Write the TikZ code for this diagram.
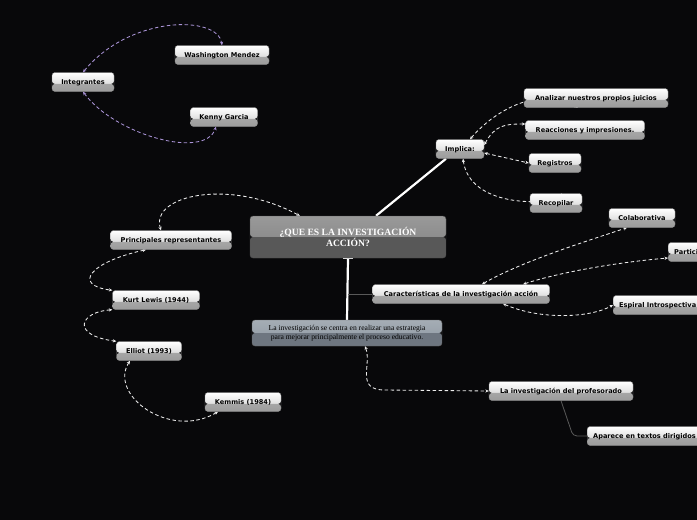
\documentclass[tikz,border=0pt]{standalone}
\usepackage{fontspec}
\setmainfont{Liberation Serif}
\newfontfamily\leaffont{DejaVu Sans}
\usepackage{xcolor}
\usepackage{tikz}
\usetikzlibrary{arrows.meta, backgrounds, calc}

\definecolor{bgdark}{HTML}{08080A}
\definecolor{lilac}{HTML}{A993D6}
\definecolor{dashgray}{HTML}{EDEDED}
\definecolor{maintop}{HTML}{808080}
\definecolor{mainbot}{HTML}{585858}
\definecolor{desctop}{HTML}{8E98A2}
\definecolor{descbot}{HTML}{6E7680}

\begin{document}
\begin{tikzpicture}[x=1pt, y=-1pt,
  leaf/.style={draw=black!45, rounded corners=3pt, minimum height=19pt, inner xsep=6pt,
               text height=5.6pt, text depth=1pt,
               font=\leaffont\bfseries\fontsize{6.6}{8}\selectfont, text=black,
               path picture={
                 \coordinate (splitw) at ($(path picture bounding box.north west)!0.6!(path picture bounding box.south west)$);
                 \coordinate (splite) at ($(path picture bounding box.north east)!0.6!(path picture bounding box.south east)$);
                 \shade[top color=white, bottom color=gray!25]
                   (path picture bounding box.north west) rectangle (splite);
                 \shade[top color=gray!70, bottom color=gray!78]
                   (splitw) rectangle (path picture bounding box.south east);}},
  topic/.style={draw=black!70, rounded corners=3pt, align=center, text=white,
                font=\bfseries\fontsize{9.6}{11.5}\selectfont,
                path picture={
                 \shade[top color=maintop!80!white, bottom color=maintop]
                   (path picture bounding box.north west) rectangle (path picture bounding box.east);
                 \fill[mainbot]
                   (path picture bounding box.west) rectangle (path picture bounding box.south east);}},
  note/.style={draw=black!60, rounded corners=3pt, align=center, text=black,
               font=\fontsize{7.6}{8.4}\selectfont,
               path picture={
                 \shade[top color=desctop!80!white, bottom color=desctop]
                   (path picture bounding box.north west) rectangle (path picture bounding box.east);
                 \fill[descbot]
                   (path picture bounding box.west) rectangle (path picture bounding box.south east);}},
  rel/.style={draw=dashgray, line width=0.85pt, dash pattern=on 3.5pt off 2.5pt,
              {Stealth[length=3.5pt,width=3.2pt]}-{Stealth[length=3.5pt,width=3.2pt]}},
  stem/.style={draw=white, line width=2.2pt},
  link/.style={draw=gray!70!black, line width=0.8pt, rounded corners=4pt}
]

\useasboundingbox (0,0) rectangle (697,520);

%% Nodes
\node[topic, minimum width=196pt, minimum height=42pt] (main) at (348,237)
  {¿QUE ES LA INVESTIGACIÓN\\ACCIÓN?};
\node[note, minimum width=190pt, minimum height=26pt] (desc) at (347,333)
  {La investigación se centra en realizar una estrategia\\para mejorar principalmente el proceso educativo.};

\node[leaf, minimum width=62pt]  (integ) at (83,82)   {Integrantes};
\node[leaf, minimum width=94pt]  (wash)  at (222,55)  {Washington Mendez};
\node[leaf, minimum width=67pt]  (kenny) at (224,117) {Kenny Garcia};

\node[leaf, minimum width=121pt] (princ) at (171,240) {Principales representantes};
\node[leaf, minimum width=87pt]  (kurt)  at (156,300) {Kurt Lewis (1944)};
\node[leaf, minimum width=65pt]  (elliot) at (149,351) {Elliot (1993)};
\node[leaf, minimum width=76pt]  (kemmis) at (243,402) {Kemmis (1984)};

\node[leaf, minimum width=48pt]  (implica) at (460,149) {Implica:};
\node[leaf, minimum width=144pt] (juicios) at (596,98)  {Analizar nuestros propios juicios};
\node[leaf, minimum width=119pt] (reacc)   at (585,130) {Reacciones y impresiones.};
\node[leaf, minimum width=52pt]  (regis)   at (555,163) {Registros};
\node[leaf, minimum width=52pt]  (recop)   at (556,203) {Recopilar};

\node[leaf, minimum width=177pt] (carac)  at (461,294) {Características de la investigación acción};
\node[leaf, minimum width=66pt]  (colab)  at (642,218) {Colaborativa};
\node[leaf, anchor=west]         (partic) at (668,252) {Participativa};
\node[leaf, anchor=west]         (espiral) at (613,305) {Espiral Introspectiva};

\node[leaf, minimum width=144pt] (prof)   at (561,391) {La investigación del profesorado};
\node[leaf, anchor=west]         (aparece) at (587,436) {Aparece en textos dirigidos};

\begin{pgfonlayer}{background}
\fill[bgdark] (0,0) rectangle (697,520);

%% Branches
\draw[stem] ([xshift=28pt]main.north) -- ([xshift=-14pt]implica.south);
\draw[stem] (main.south) -- (desc.north);
\draw[white, line width=1.6pt] ([xshift=-5pt]main.south) -- ([xshift=5pt]main.south);
\coordinate (cjoin) at (main.south |- carac.west);
\draw[link] (cjoin) -- (carac.west);
\draw[link] (prof.south) -- ([xshift=-14pt]aparece.west) -- (aparece.west);

%% Relations
\draw[rel, draw=lilac, lilac]
  (integ.north) .. controls (130,15) and (218,15) .. (wash.north);
\draw[rel, draw=lilac, lilac]
  (integ.south) .. controls (115,135) and (205,160) .. ([xshift=-8pt]kenny.south);

\draw[rel] ([xshift=-10pt]princ.north) .. controls (150,195) and (230,178) .. ([xshift=50pt]main.north west);
\draw[rel] ([xshift=-25pt]princ.south) .. controls (90,262) and (72,285) .. (kurt.north west);
\draw[rel] (kurt.south west) .. controls (80,312) and (70,335) .. (elliot.north west);
\draw[rel] ([xshift=-19pt]elliot.south) .. controls (108,395) and (170,440) .. ([xshift=-25pt]kemmis.south);

\draw[rel] ([xshift=10pt]implica.north) .. controls (495,110) and (540,85) .. ([xshift=-18pt]juicios.south);
\draw[rel] ([yshift=4pt]implica.east) .. controls (495,125) and (505,124) .. ([yshift=6pt]reacc.west);
\draw[rel] ([yshift=-4pt]implica.east) -- (regis.west);
\draw[rel] ([xshift=3pt]implica.south) .. controls (470,210) and (555,205) .. ([xshift=6pt]recop.north);

\draw[rel] ([xshift=21pt]carac.north) .. controls (520,262) and (590,240) .. ([xshift=-15pt]colab.south);
\draw[rel] ([xshift=62pt]carac.north) .. controls (560,272) and (620,262) .. ([yshift=-6pt]partic.west);
\draw[rel] ([xshift=42pt]carac.south) .. controls (540,320) and (590,318) .. (espiral.west);

\draw[rel] ([xshift=18pt]desc.south) .. controls (372,365) and (355,390) .. (385,390) -- (prof.west);
\end{pgfonlayer}

\end{tikzpicture}
\end{document}
